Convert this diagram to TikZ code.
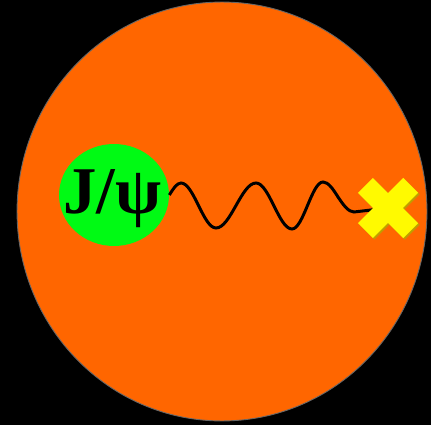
\documentclass[tikz,border=0pt]{standalone}
\usepackage{fontspec}
\setmainfont{Liberation Serif}
\usepackage{tikz}
\usetikzlibrary{positioning,shapes.geometric}
\definecolor{bgorange}{RGB}{255,102,0}
\definecolor{blobgreen}{RGB}{0,250,20}
\definecolor{hityellow}{RGB}{255,250,0}
\definecolor{hitshade}{RGB}{190,160,0}
\tikzset{
  medium/.style={ellipse, fill=bgorange, draw=black!60, line width=0.5pt, minimum width=8.2cm, minimum height=8.38cm},
  blob/.style={ellipse, fill=blobgreen, minimum width=2.2cm, minimum height=2.04cm, inner sep=0pt},
  wire/.style={draw=black, line width=1.7pt},
  xbar/.style={rectangle, fill=hityellow, minimum width=1.28cm, minimum height=0.42cm, inner sep=0pt},
  xshade/.style={xbar, fill=hitshade}
}

\begin{document}
\begin{tikzpicture}[x=0.02cm, y=-0.02cm]
  \fill[black] (0,0) rectangle (431,425);
  \node[medium] (qgp) at (222,211.5) {};
  \node[blob] (jpsi) at (114,195) {};
  \node[font=\fontsize{38}{40}\bfseries\selectfont] (lbl) at (112,199) {J/ψ};
  \coordinate (hit) at (388,208);
  % wavy line from the J/psi to the hit
  \draw[wire] (jpsi.east) sin (181,183) cos (198.5,205.5) sin (216,228)
    cos (236,205.5) sin (256,183) cos (274,206) sin (292,229)
    cos (307.5,205.5) sin (323,182) cos (338,197) sin (354,212) -- (hit);
  \node[xshade, rotate=45] at ([shift={(1.5,1.5)}]hit) {};
  \node[xshade, rotate=-45] at ([shift={(1.5,1.5)}]hit) {};
  \node[xbar, rotate=45] (hita) at (hit) {};
  \node[xbar, rotate=-45] (hitb) at (hit) {};
\end{tikzpicture}
\end{document}
